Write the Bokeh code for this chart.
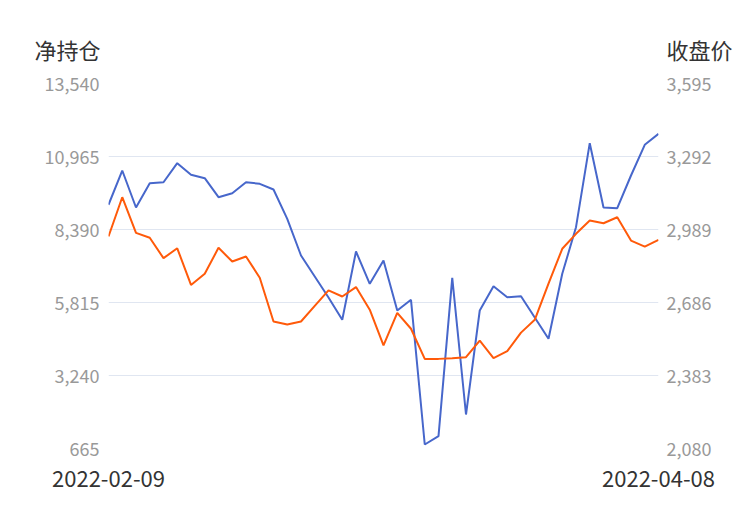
from bokeh.plotting import figure
from bokeh.layouts import column
from bokeh.models import (Range1d, LinearAxis, FixedTicker, NumeralTickFormatter, Label)
from bokeh.embed import file_html
from bokeh.resources import INLINE

dates = ["2022-02-09", "2022-02-10", "2022-02-11", "2022-02-14", "2022-02-15", "2022-02-16",
         "2022-02-17", "2022-02-18", "2022-02-21", "2022-02-22", "2022-02-23", "2022-02-24",
         "2022-02-25", "2022-02-28", "2022-03-01", "2022-03-02", "2022-03-03", "2022-03-04",
         "2022-03-07", "2022-03-08", "2022-03-09", "2022-03-10", "2022-03-11", "2022-03-14",
         "2022-03-15", "2022-03-16", "2022-03-17", "2022-03-18", "2022-03-21", "2022-03-22",
         "2022-03-23", "2022-03-24", "2022-03-25", "2022-03-28", "2022-03-29", "2022-03-30",
         "2022-03-31", "2022-04-01", "2022-04-06", "2022-04-07", "2022-04-08"]

net_position = [9261, 10471, 9166, 10023, 10058, 10729, 10319, 10200, 9529, 9670,
                10058, 10002, 9801, 8767, 7473, 6732, 5991, 5205, 7614, 6475,
                7297, 5533, 5910, 806, 1099, 6686, 1864, 5533, 6390, 6002,
                6037, 5286, 4535, 6827, 8471, 11434, 9166, 9141, 10295, 11378, 11766]

close_price = [2960, 3123, 2975, 2955, 2870, 2911, 2759, 2805, 2913, 2856,
               2877, 2789, 2607, 2595, 2607, 2672, 2736, 2711, 2750, 2656,
               2508, 2643, 2577, 2452, 2452, 2455, 2459, 2528, 2455, 2484,
               2561, 2614, 2764, 2909, 2971, 3026, 3015, 3040, 2943, 2918, 2946]

left_ticks = [665, 3240, 5815, 8390, 10965, 13540]
right_ticks = [2080, 2383, 2686, 2989, 3292, 3595]
left_title = "净持仓"
right_title = "收盘价"

FONT = "Noto Sans CJK SC"
BLUE = "#4767CB"
ORANGE = "#FF5A0A"
GRID = "#E0E6F1"

HEADER_H = 70

# ---- header with the two axis names ----
head = figure(width=750, height=HEADER_H, output_backend="svg", toolbar_location=None,
              x_range=Range1d(0, 750), y_range=Range1d(0, HEADER_H),
              x_axis_location=None, y_axis_location=None,
              min_border=0, min_border_left=0, min_border_right=0,
              min_border_top=0, min_border_bottom=0)
head.frame_align = False
head.outline_line_color = None
head.grid.visible = False
head.add_layout(Label(x=34, y=HEADER_H - 48, text=left_title, text_font=FONT,
                      text_font_size="22px", text_color="#333333",
                      text_baseline="middle", text_align="left"))
head.add_layout(Label(x=666, y=HEADER_H - 48, text=right_title, text_font=FONT,
                      text_font_size="22px", text_color="#333333",
                      text_baseline="middle", text_align="left"))

# ---- main chart ----
xs = list(range(len(dates)))

p = figure(width=750, height=510 - HEADER_H, output_backend="svg", toolbar_location=None,
           x_range=Range1d(0, len(dates) - 1),
           y_range=Range1d(left_ticks[0], left_ticks[-1]),
           min_border_left=108, min_border_right=92,
           min_border_top=83 - HEADER_H, min_border_bottom=62)
p.frame_align = False
p.extra_y_ranges = {"price": Range1d(right_ticks[0], right_ticks[-1])}
p.outline_line_color = None
p.background_fill_color = "white"
p.border_fill_color = "white"

# x axis
p.xaxis.ticker = FixedTicker(ticks=[0, len(dates) - 1])
p.xaxis.major_label_overrides = {0: dates[0], len(dates) - 1: dates[-1]}
p.xaxis.axis_line_color = None
p.xaxis.major_tick_line_color = None
p.xaxis.minor_tick_line_color = None
p.xaxis.major_label_text_font = FONT
p.xaxis.major_label_text_font_size = "22px"
p.xaxis.major_label_text_color = "#333333"
p.xaxis.major_label_standoff = 16
p.xgrid.visible = False

# left axis
p.yaxis.ticker = FixedTicker(ticks=left_ticks)
p.yaxis.formatter = NumeralTickFormatter(format="0,0")
p.yaxis.axis_line_color = None
p.yaxis.major_tick_line_color = None
p.yaxis.minor_tick_line_color = None
p.yaxis.major_label_text_font = FONT
p.yaxis.major_label_text_font_size = "18px"
p.yaxis.major_label_text_color = "#999999"
p.yaxis.major_label_standoff = 3
p.ygrid.ticker = FixedTicker(ticks=left_ticks)
p.ygrid.grid_line_color = GRID
p.ygrid.grid_line_width = 1

# right axis
raxis = LinearAxis(y_range_name="price", ticker=FixedTicker(ticks=right_ticks),
                   formatter=NumeralTickFormatter(format="0,0"))
raxis.axis_line_color = None
raxis.major_tick_line_color = None
raxis.minor_tick_line_color = None
raxis.major_label_text_font = FONT
raxis.major_label_text_font_size = "18px"
raxis.major_label_text_color = "#999999"
raxis.major_label_standoff = 2
p.add_layout(raxis, "right")

p.line(xs, net_position, line_color=BLUE, line_width=2)
p.line(xs, close_price, line_color=ORANGE, line_width=2, y_range_name="price")

layout = column(head, p, spacing=0)
open("out.html", "w").write(file_html(layout, INLINE))
